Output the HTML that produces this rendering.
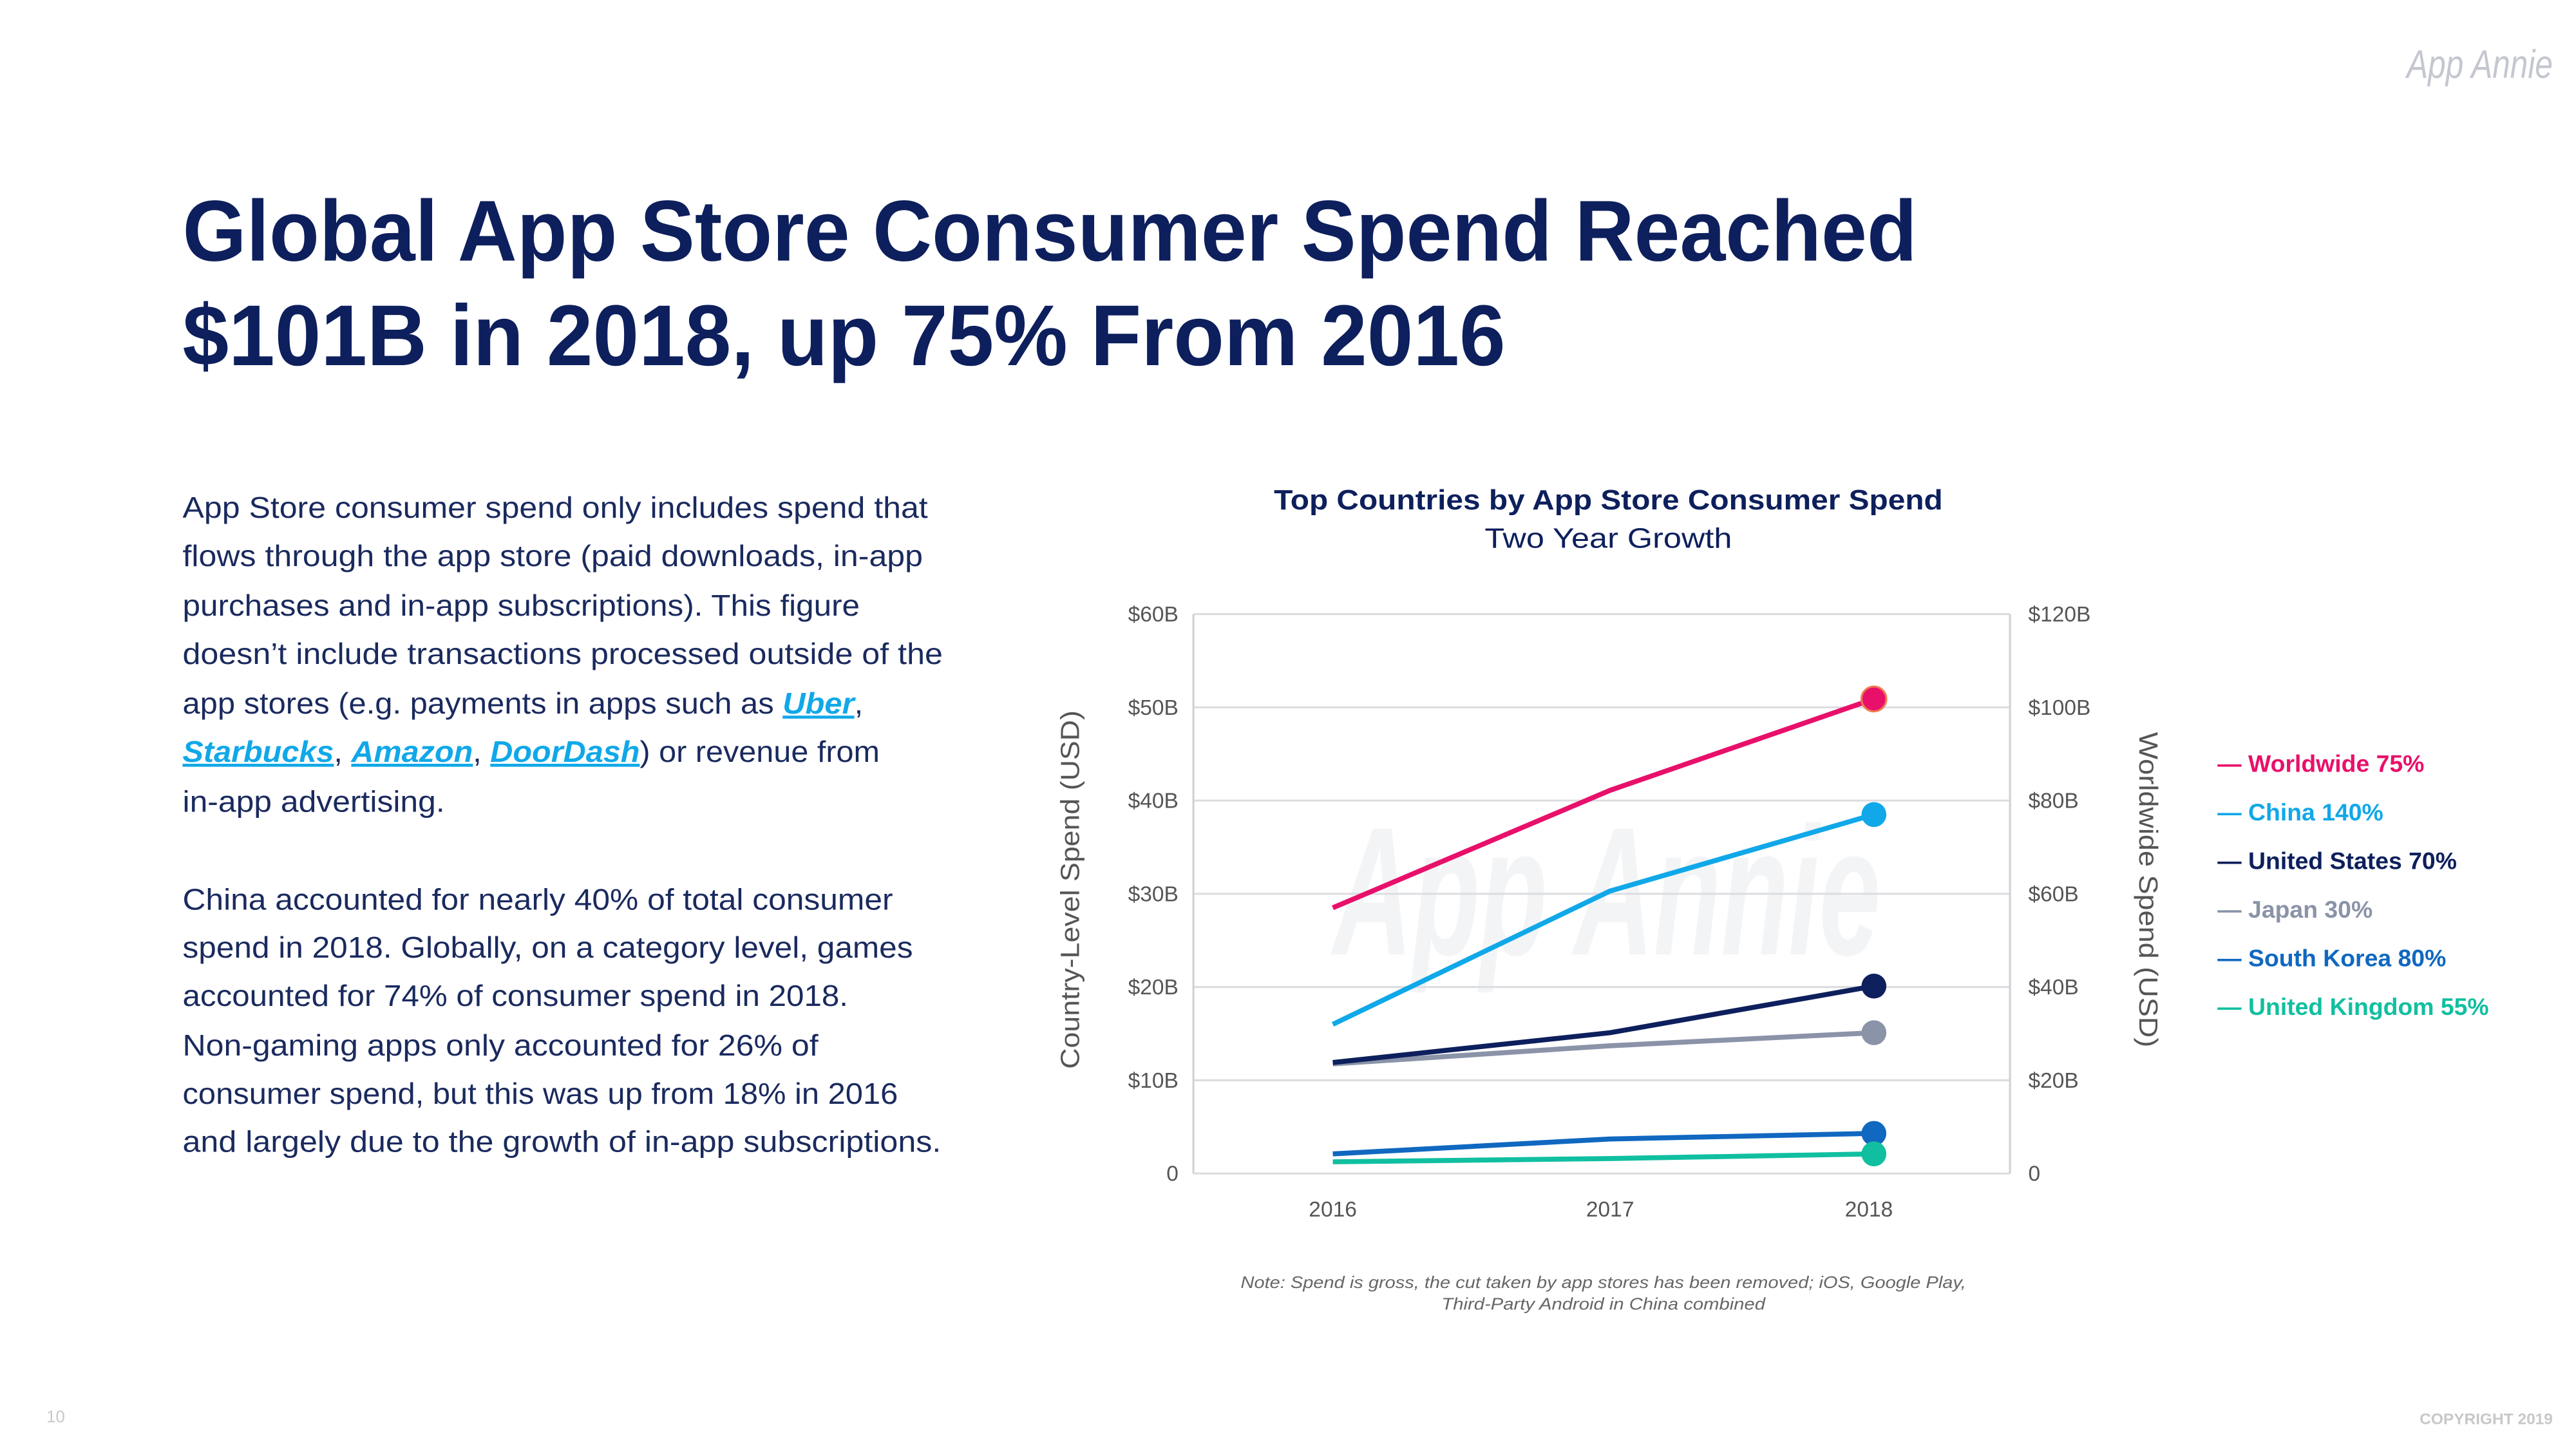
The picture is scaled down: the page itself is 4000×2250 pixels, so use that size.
<!DOCTYPE html>
<html><head><meta charset="utf-8"><style>
html,body{margin:0;padding:0;background:#fff;}
svg{display:block;font-family:"Liberation Sans",sans-serif;}
</style></head><body>
<svg id="page" width="4000" height="2250" viewBox="0 0 1552 873" xmlns="http://www.w3.org/2000/svg">
<text x="1538" y="47" text-anchor="end" font-size="24" font-style="italic" fill="#c4c7cf" textLength="88" lengthAdjust="spacingAndGlyphs">App Annie</text>
<g fill="#0d1f5c" font-weight="bold" font-size="52">
<text x="110" y="157" textLength="1045" lengthAdjust="spacingAndGlyphs">Global App Store Consumer Spend Reached</text>
<text x="110" y="220" textLength="797" lengthAdjust="spacingAndGlyphs">$101B in 2018, up 75% From 2016</text>
</g>
<g fill="#1a2a5e" font-size="18">
<text x="110" y="312" textLength="449" lengthAdjust="spacingAndGlyphs">App Store consumer spend only includes spend that</text>
<text x="110" y="341" textLength="446" lengthAdjust="spacingAndGlyphs">flows through the app store (paid downloads, in-app</text>
<text x="110" y="371" textLength="408" lengthAdjust="spacingAndGlyphs">purchases and in-app subscriptions). This figure</text>
<text x="110" y="400" textLength="458" lengthAdjust="spacingAndGlyphs">doesn’t include transactions processed outside of the</text>
<text x="110" y="430" textLength="410" lengthAdjust="spacingAndGlyphs">app stores (e.g. payments in apps such as <tspan fill="#10a8e8" font-weight="bold" font-style="italic" text-decoration="underline">Uber</tspan>,</text>
<text x="110" y="459" textLength="420" lengthAdjust="spacingAndGlyphs"><tspan fill="#10a8e8" font-weight="bold" font-style="italic" text-decoration="underline">Starbucks</tspan>, <tspan fill="#10a8e8" font-weight="bold" font-style="italic" text-decoration="underline">Amazon</tspan>, <tspan fill="#10a8e8" font-weight="bold" font-style="italic" text-decoration="underline">DoorDash</tspan>) or revenue from</text>
<text x="110" y="489" textLength="158" lengthAdjust="spacingAndGlyphs">in-app advertising.</text>
<text x="110" y="548" textLength="428" lengthAdjust="spacingAndGlyphs">China accounted for nearly 40% of total consumer</text>
<text x="110" y="577" textLength="440" lengthAdjust="spacingAndGlyphs">spend in 2018. Globally, on a category level, games</text>
<text x="110" y="606" textLength="401" lengthAdjust="spacingAndGlyphs">accounted for 74% of consumer spend in 2018.</text>
<text x="110" y="636" textLength="383" lengthAdjust="spacingAndGlyphs">Non-gaming apps only accounted for 26% of</text>
<text x="110" y="665" textLength="431" lengthAdjust="spacingAndGlyphs">consumer spend, but this was up from 18% in 2016</text>
<text x="110" y="694" textLength="457" lengthAdjust="spacingAndGlyphs">and largely due to the growth of in-app subscriptions.</text>
</g>
<text x="969" y="307" text-anchor="middle" font-size="17" font-weight="bold" fill="#0d1f5c" textLength="403" lengthAdjust="spacingAndGlyphs">Top Countries by App Store Consumer Spend</text>
<text x="969" y="330" text-anchor="middle" font-size="17" fill="#0d1f5c" textLength="149" lengthAdjust="spacingAndGlyphs">Two Year Growth</text>
<text x="968" y="575" text-anchor="middle" font-size="110" font-style="italic" font-weight="bold" fill="#f3f4f6" textLength="330" lengthAdjust="spacingAndGlyphs">App Annie</text>
<g id="chart"></g>
<text transform="translate(650,536) rotate(-90)" text-anchor="middle" font-size="16" fill="#555" textLength="216" lengthAdjust="spacingAndGlyphs">Country-Level Spend (USD)</text>
<text transform="translate(1289,536) rotate(90)" text-anchor="middle" font-size="16" fill="#555" textLength="190" lengthAdjust="spacingAndGlyphs">Worldwide Spend (USD)</text>
<g id="legend" font-size="14.5" font-weight="bold"></g>
<g font-size="10" font-style="italic" fill="#666" text-anchor="middle">
<text x="966" y="776" textLength="437" lengthAdjust="spacingAndGlyphs">Note: Spend is gross, the cut taken by app stores has been removed; iOS, Google Play,</text>
<text x="966" y="789" textLength="195" lengthAdjust="spacingAndGlyphs">Third-Party Android in China combined</text>
</g>
<text x="28" y="857" font-size="10" fill="#c8c8c8">10</text>
<text x="1538" y="858" text-anchor="end" font-size="9.5" font-weight="bold" fill="#c8c8c8">COPYRIGHT 2019</text>
</svg>
<script>
const years = ["2016","2017","2018"];
const leftTicks = [0,10,20,30,40,50,60];
const leftTickLabels = ["0","$10B","$20B","$30B","$40B","$50B","$60B"];
const rightTickLabels = ["0","$20B","$40B","$60B","$80B","$100B","$120B"];
const worldwide = [57, 82.2, 101.8];
const china = [16.0, 30.3, 38.5];
const unitedStates = [11.9, 15.1, 20.1];
const japan = [11.75, 13.7, 15.1];
const southKorea = [2.1, 3.7, 4.3];
const unitedKingdom = [1.25, 1.6, 2.1];
const legendLabels = ["Worldwide 75%","China 140%","United States 70%","Japan 30%","South Korea 80%","United Kingdom 55%"];

const NS="http://www.w3.org/2000/svg";
const chart=document.getElementById('chart');
const X0=719,X1=1211,Y0=707,Y1=370;
const xPos=[803,968,1129];
function xScale(i){return xPos[0]+(xPos[2]-xPos[0])*(i/(years.length-1))*(i===1?0.5125/0.5:1);}
function yLeft(v){return Y0-(Y0-Y1)*v/60;}
function yRight(v){return Y0-(Y0-Y1)*v/120;}
function mk(tag,attrs,parent){const e=document.createElementNS(NS,tag);for(const k in attrs)e.setAttribute(k,attrs[k]);(parent||chart).appendChild(e);return e;}

leftTicks.forEach((t,i)=>{
  const y=yLeft(t);
  const g=mk('line',{x1:X0,x2:X1,y1:y,y2:y,stroke:'#dcdde0','stroke-width':1.2});
  
  
  const l=mk('text',{x:710,y:y+4.5,'text-anchor':'end','font-size':13,fill:'#555'});
  l.textContent=leftTickLabels[i];
  
  
  const r=mk('text',{x:1222,y:y+4.5,'font-size':13,fill:'#555'});
  r.textContent=rightTickLabels[i];
  
  
});
[X0,X1].forEach(x=>{
  const a=mk('line',{x1:x,x2:x,y1:Y1,y2:Y0,stroke:'#d0d1d5','stroke-width':1.2});
  
  
});
years.forEach((yr,i)=>{
  const t=mk('text',{x:xScale(i)-(i===2?3:0),y:733,'text-anchor':'middle','font-size':13,fill:'#555'});
  t.textContent=yr;
  
  
});

const series=[
  {name:'japan',data:japan,color:'#8a93a8',scale:yLeft},
  {name:'united-states',data:unitedStates,color:'#0d1f5c',scale:yLeft},
  {name:'china',data:china,color:'#10a8e8',scale:yLeft},
  {name:'worldwide',data:worldwide,color:'#e8106a',scale:yRight},
  {name:'south-korea',data:southKorea,color:'#1068c0',scale:yLeft},
  {name:'united-kingdom',data:unitedKingdom,color:'#10bfa0',scale:yLeft}
];
series.forEach(s=>{
  const pts=s.data.map((v,i)=>xScale(i)+','+s.scale(v)).join(' ');
  const p=mk('polyline',{points:pts,fill:'none',stroke:s.color,'stroke-width':3,'stroke-linejoin':'round'});
  
  
  const last=s.data.length-1;
  const c=mk('circle',{cx:xScale(last),cy:s.scale(s.data[last]),r:7.5,fill:s.color});
  if(s.name==='worldwide'){c.setAttribute('stroke','#f07a50');c.setAttribute('stroke-width','1.2');}
  
  
});

const legend=document.getElementById('legend');
const legendColors=['#e8106a','#10a8e8','#0d1f5c','#8a93a8','#1068c0','#10bfa0'];
legendLabels.forEach((lab,i)=>{
  const t=mk('text',{x:1336,y:465+i*29.3,fill:legendColors[i]},legend);
  t.textContent='— '+lab;
  
  
});
</script>
</body></html>
